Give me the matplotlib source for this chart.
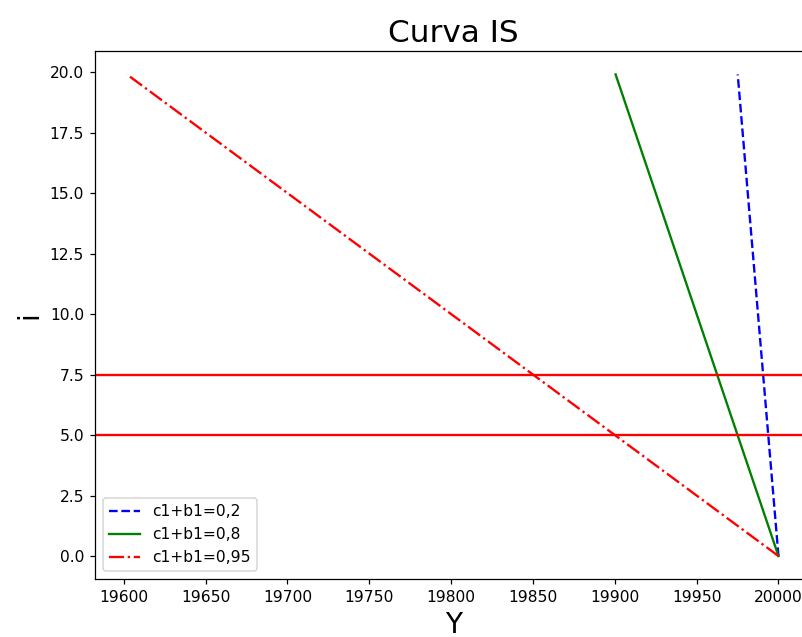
import matplotlib.pyplot as plt

# tasa de interes
i = [0, 19.9]

# producto para cada valor de c1+b1
Y_02 = [20000, 19975.1]
Y_08 = [20000, 19900.5]
Y_095 = [20000, 19602]

i_lineas = [7.5, 5.0]

fig = plt.figure(figsize=(802 / 112, 637 / 112), dpi=112)
ax = fig.add_axes([0.1185, 0.091, 0.893, 0.829])

ax.plot(Y_02, i, 'b--', label='c1+b1=0,2')
ax.plot(Y_08, i, 'g-', label='c1+b1=0,8')
ax.plot(Y_095, i, 'r-.', label='c1+b1=0,95')
for h in i_lineas:
    ax.axhline(h, color='r')

ax.set_xlim(19582.5, 20020)
ax.set_ylim(-0.95, 20.87)
ax.set_title('Curva IS', fontsize=20)
ax.set_xlabel('Y', fontsize=18)
ax.set_ylabel('i', fontsize=18)
ax.legend(loc='lower left')

fig.savefig('out.png', dpi=112)
